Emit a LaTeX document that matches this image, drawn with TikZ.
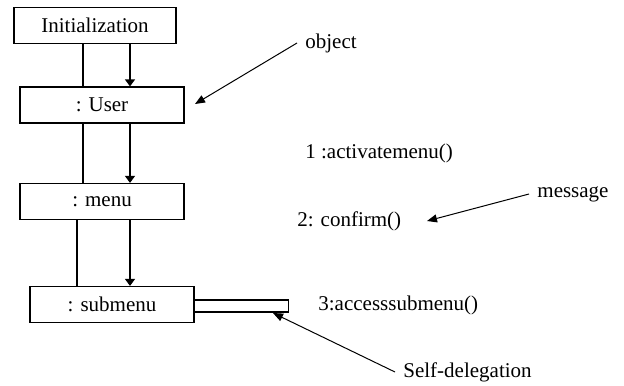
\documentclass[tikz,border=0pt]{standalone}
\usepackage{fontspec}
\setmainfont{Liberation Serif}
\usetikzlibrary{arrows.meta}

\tikzset{
  objbox/.style={draw, line width=0.6pt, minimum width=82pt, minimum height=18pt,
    inner sep=0pt, font=\fontsize{10.5}{12}\selectfont},
  msg/.style={anchor=west, inner sep=0pt, font=\fontsize{10.5}{12}\selectfont},
  tag/.style={anchor=west, inner sep=4pt, font=\fontsize{10.5}{12}\selectfont},
  flow/.style={line width=0.6pt, -{Triangle[width=5pt,length=3.5pt]}},
  pointer/.style={line width=0.5pt, -{Triangle[width=4pt,length=5pt]}},
}

\begin{document}
\begin{tikzpicture}[x=0.5pt,y=-0.5pt]
\useasboundingbox (0,0) rectangle (624,385);
% objects
\node[objbox, minimum width=81pt] (init) at (95,25.5) {Initialization};
\node[objbox] (user) at (102,105) {: User};
\node[objbox] (menu) at (102,201.5) {: menu};
\node[objbox] (submenu) at (112,304.5) {: submenu};
\node[objbox, minimum width=47pt, minimum height=6pt, anchor=west] (selfbar) at (194,306) {};
% links and calls between the objects
\coordinate (linkA) at (83,0);
\coordinate (linkB) at (77,0);
\coordinate (callA) at (130,0);
\draw[line width=0.6pt] (init.south -| linkA) -- (user.north -| linkA);
\draw[flow] (init.south -| callA) -- (user.north -| callA);
\draw[line width=0.6pt] (user.south -| linkA) -- (menu.north -| linkA);
\draw[flow] (user.south -| callA) -- (menu.north -| callA);
\draw[line width=0.6pt] (menu.south -| linkB) -- (submenu.north -| linkB);
\draw[flow] (menu.south -| callA) -- (submenu.north -| callA);
% messages
\node[msg] (m1) at (305,153) {1 :activatemenu()};
\node[msg] (m2) at (297,221) {2: confirm()};
\node[msg] (m3) at (318,305) {3:accesssubmenu()};
% notes with pointers
\coordinate (objtip) at (195,104);
\coordinate (msgtip) at (427,221);
\coordinate (selftip) at (273,313);
\node[tag] (objlbl) at (297,43) {object};
\node[tag] (msglbl) at (529,194) {message};
\node[tag] (selflbl) at (395,372) {Self-delegation};
\draw[pointer] (objlbl.west) -- (objtip);
\draw[pointer] (msglbl.west) -- (msgtip);
\draw[pointer] (selflbl.west) -- (selftip);
\end{tikzpicture}
\end{document}
